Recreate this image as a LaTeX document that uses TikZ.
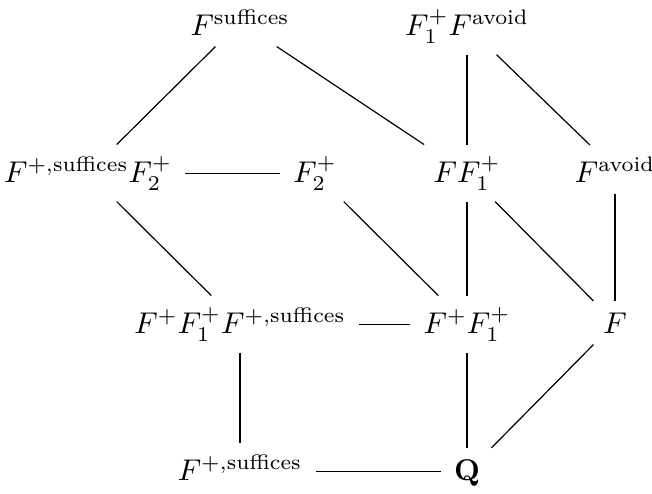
\documentclass[tikz,border=0pt]{standalone}
\usepackage{amsmath}
\begin{document}
\begin{tikzpicture}[x=0.33333pt,y=-0.33333pt,
  cell/.style={inner xsep=1ex, inner ysep=0.85ex, anchor=base},
  edge/.style={line width=0.4pt}]
\useasboundingbox (0,0) rectangle (652,494);
\node[cell] (fs)  at (240,35)  {$F^{\text{suffices}}$};
\node[cell] (ffa) at (467,35)  {$F_1^+F^{\text{avoid}}$};
\node[cell] (a)   at (88,182)  {$F^{+,\text{suffices}}F_2^+$};
\node[cell] (b)   at (315,182) {$F_2^+$};
\node[cell] (c)   at (467,182) {$FF_1^+$};
\node[cell] (d)   at (615,182) {$F^{\text{avoid}}$};
\node[cell] (e)   at (240,333) {$F^+F_1^+F^{+,\text{suffices}}$};
\node[cell] (g)   at (467,333) {$F^+F_1^+$};
\node[cell] (h)   at (615,333) {$F$};
\node[cell] (i)   at (240,480) {$F^{+,\text{suffices}}$};
\node[cell] (q)   at (467,480) {$\mathbf{Q}$};
\draw[edge] (fs) -- (a);
\draw[edge] (fs) -- (c);
\draw[edge] (ffa) -- (c);
\draw[edge] (ffa) -- (d);
\draw[edge] ([yshift=2.8pt]a.base east) -- ([yshift=2.8pt]b.base west);
\draw[edge] (a) -- (e);
\draw[edge] (b) -- (g);
\draw[edge] (c) -- (g);
\draw[edge] (c) -- (h);
\draw[edge] (d) -- (h);
\draw[edge] ([yshift=2.8pt]e.base east) -- ([yshift=2.8pt]g.base west);
\draw[edge] (e) -- (i);
\draw[edge] (g) -- (q);
\draw[edge] (h) -- (q);
\draw[edge] ([yshift=2.8pt]i.base east) -- ([yshift=2.8pt]q.base west);
\end{tikzpicture}
\end{document}
